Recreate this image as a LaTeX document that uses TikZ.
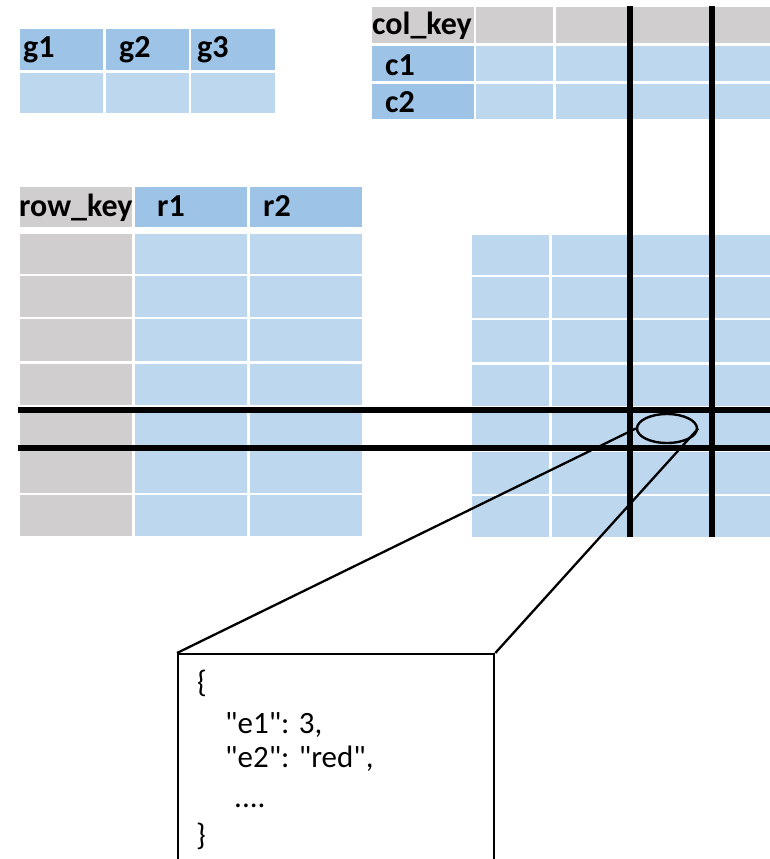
\documentclass[tikz,border=0pt]{standalone}
\usepackage{fontspec}
\setmainfont{Carlito}[Ligatures=TeXOff]
\usetikzlibrary{shapes.geometric}
\definecolor{hdrblue}{HTML}{9DC3E6}
\definecolor{cellblue}{HTML}{BDD7EE}
\definecolor{keygray}{HTML}{D0CECE}
\tikzset{
  hdr/.style={font=\fontsize{32}{36}\selectfont\bfseries, anchor=base west, inner sep=0pt},
  json/.style={font=\fontsize{31}{36}\selectfont, anchor=base west, inner sep=0pt},
  bigline/.style={line width=5.5pt, black},
  thinline/.style={line width=2.3pt, black},
}
\begin{document}
\begin{tikzpicture}[x=1pt,y=-1pt]
\clip (0,0) rectangle (770,859);
\fill[white] (0,0) rectangle (770,859);

% g table
\foreach \xa/\xb in {20/103,106/189,191/275}{
  \fill[hdrblue] (\xa,29) rectangle (\xb,70);
  \fill[cellblue] (\xa,73) rectangle (\xb,113);
}
% col_key table
\fill[keygray] (372,7) rectangle (474,43);
\fill[hdrblue] (372,46) rectangle (474,81);
\fill[hdrblue] (372,84) rectangle (474,119);
\foreach \xa/\xb in {476/553,556/631,633/709,711/775}{
  \fill[keygray] (\xa,7) rectangle (\xb,43);
  \fill[cellblue] (\xa,46) rectangle (\xb,81);
  \fill[cellblue] (\xa,84) rectangle (\xb,119);
}
% row_key table and right grid
\fill[keygray] (20,187) rectangle (132,227);
\fill[hdrblue] (135,187) rectangle (247,227);
\fill[hdrblue] (250,187) rectangle (362,227);
\foreach \ya/\yb in {234/274,276/317,319/361,364/405,408/449,451/493,495/536}{
  \fill[keygray] (20,\ya) rectangle (132,\yb);
  \fill[cellblue] (135,\ya) rectangle (247,\yb);
  \fill[cellblue] (250,\ya) rectangle (362,\yb);
  \foreach \xa/\xb in {472/549,552/629,632/709,711/775}{
    \fill[cellblue] (\xa,\ya+1) rectangle (\xb,\yb+1);
  }
}

% header labels
\node[hdr] (g1) at (23,57) {g1};
\node[hdr] (g2) at (119,57) {g2};
\node[hdr] (g3) at (197,57) {g3};
\node[hdr] (colkey) at (372,35) {col\_key};
\node[hdr] (c1) at (385,75) {c1};
\node[hdr] (c2) at (385,112) {c2};
\node[hdr] (rowkey) at (19,216) {row\_key};
\node[hdr] (r1) at (157,216) {r1};
\node[hdr] (r2) at (263,216) {r2};

% selection lines
\draw[bigline] (18,410) -- (775,410);
\draw[bigline] (18,448) -- (775,448);
\draw[bigline] (630,6) -- (630,537);
\draw[bigline] (712,6) -- (712,537);

% zoomed cell and its content box
\node[draw, ellipse, line width=2.4pt, minimum width=60pt, minimum height=29pt, inner sep=0pt] (ell) at (667,428.5) {};
\node[draw, thinline, rectangle, minimum width=316pt, minimum height=240pt, anchor=north west, inner sep=0pt] (box) at (177,653) {};
\draw[thinline] (ell.west) -- (box.north west);
\draw[thinline] (ell.east) -- (box.north east);

% JSON text
\node[json] (t1) at (197,692) {\{};
\node[json] (t2) at (225,733) {"e1": 3,};
\node[json] (t3) at (225,767) {"e2": "red",};
\node[json] (t4) at (234,807) {....};
\node[json] (t5) at (196,845) {\}};
\end{tikzpicture}
\end{document}
